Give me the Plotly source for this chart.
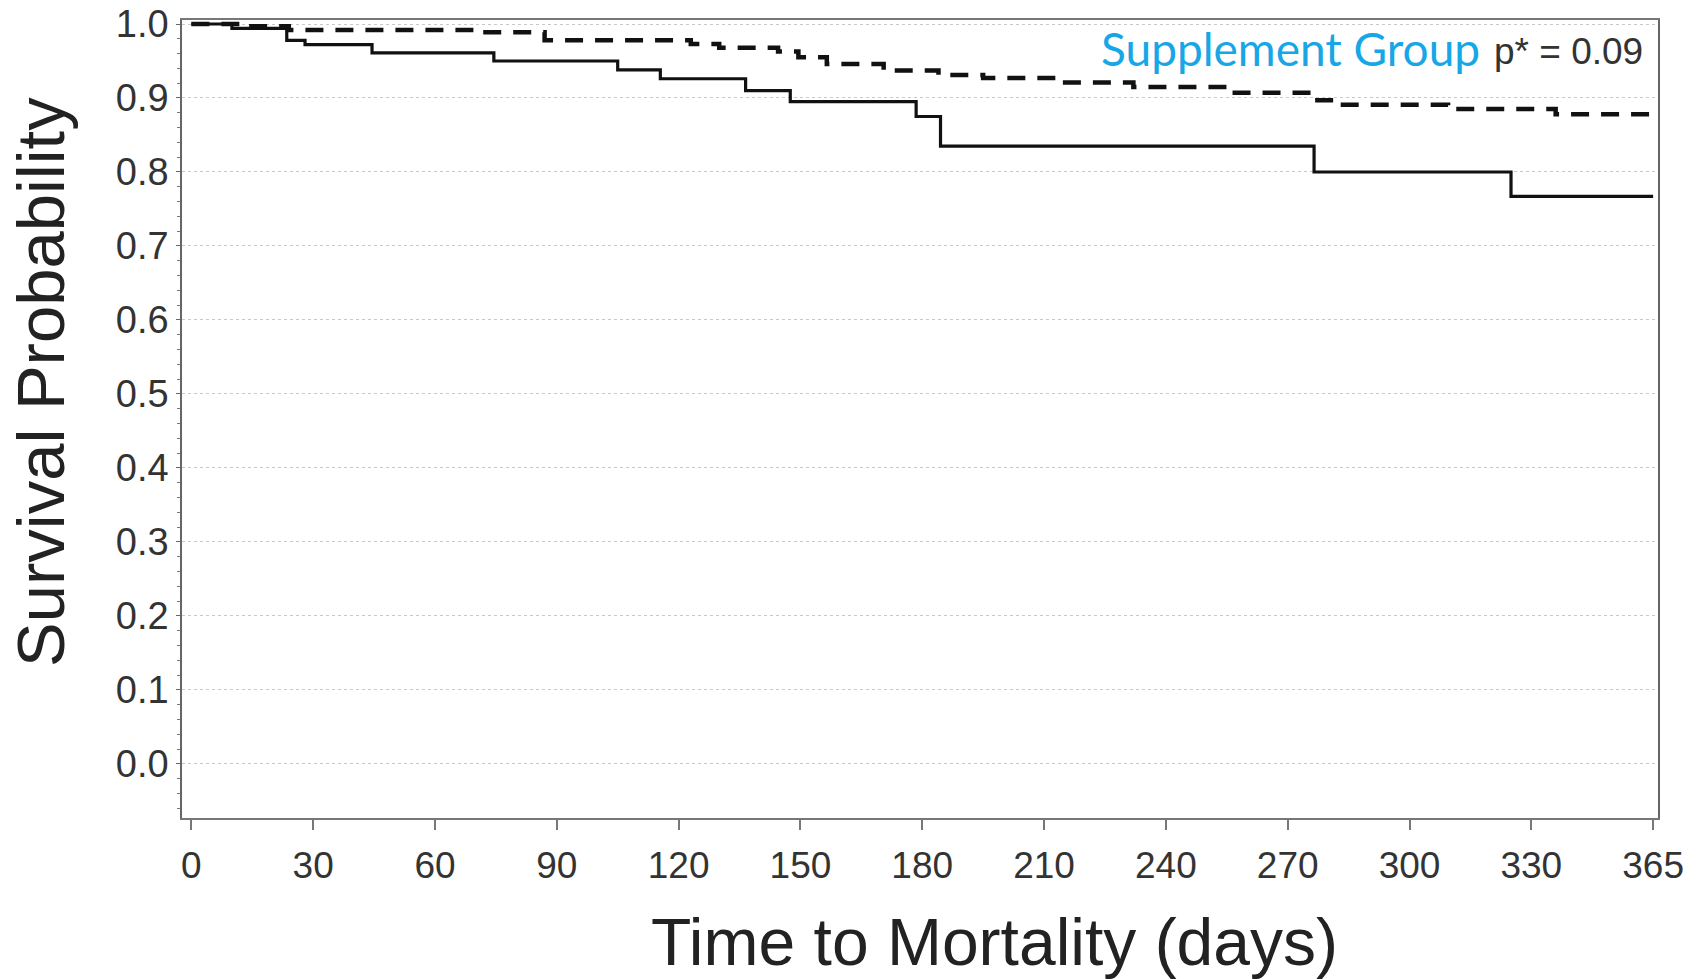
import plotly.graph_objects as go

# ---- Data ----
# x axis positions: ticks are evenly spaced; last tick (position 360) is labelled 365
tick_positions = [0, 30, 60, 90, 120, 150, 180, 210, 240, 270, 300, 330, 360]
tick_labels = ["0", "30", "60", "90", "120", "150", "180", "210", "240", "270", "300", "330", "365"]

# Solid curve (comparison group)
solid_days = [0, 10, 23.5, 28, 44.5, 74.5, 105, 115.5, 136.5, 147.5, 178.5, 184.5, 276.5, 325, 360]
solid_surv = [1.0, 0.994, 0.978, 0.972, 0.961, 0.950, 0.938, 0.926, 0.910, 0.895, 0.875, 0.835, 0.800, 0.767, 0.767]

# Dashed curve (supplement group)
dashed_days = [0, 14, 24, 70, 87, 123, 130, 144.5, 149.5, 156.5, 170.5, 184, 195, 213, 232, 255, 276, 283, 309.5, 336, 360]
dashed_surv = [1.0, 0.997, 0.992, 0.989, 0.978, 0.973, 0.968, 0.963, 0.955, 0.946, 0.937, 0.931, 0.927,
               0.921, 0.915, 0.907, 0.897, 0.891, 0.885, 0.878, 0.878]

y_ticks = [0.0, 0.1, 0.2, 0.3, 0.4, 0.5, 0.6, 0.7, 0.8, 0.9, 1.0]
y_ticktext = ["0.0", "0.1", "0.2", "0.3", "0.4", "0.5", "0.6", "0.7", "0.8", "0.9", "1.0"]

fig = go.Figure()
fig.add_trace(go.Scatter(
    x=solid_days, y=solid_surv, mode="lines", line_shape="hv",
    line=dict(color="#111111", width=3.2), showlegend=False, name="Control"))
fig.add_trace(go.Scatter(
    x=dashed_days, y=dashed_surv, mode="lines", line_shape="hv",
    line=dict(color="#111111", width=4.5, dash="18px,12px"), showlegend=False, name="Supplement Group"))

fig.update_xaxes(
    range=[-2.3, 361.2], tickvals=tick_positions, ticktext=tick_labels, automargin=False,
    showgrid=False, zeroline=False, showline=True, linecolor="#777777", linewidth=1.5,
    mirror=True, ticks="outside", ticklen=10, tickcolor="#777777", tickwidth=1.5,
    tickfont=dict(family="Liberation Sans, Arial, sans-serif", size=37, color="#333333"),
    ticklabelstandoff=4)
fig.update_yaxes(
    range=[-0.073, 1.0054], tickvals=y_ticks, ticktext=y_ticktext, automargin=False,
    showgrid=True, gridcolor="#c8c8c8", griddash="dot", gridwidth=1,
    zeroline=False, showline=True, linecolor="#666666", linewidth=1.5, mirror=True,
    ticks="outside", ticklen=4, tickcolor="#666666", tickwidth=1.2,
    minor=dict(dtick=0.02, ticks="outside", ticklen=3, tickcolor="#777777", showgrid=False),
    tickfont=dict(family="Liberation Sans, Arial, sans-serif", size=38, color="#333333"),
    ticklabelstandoff=0)

annotations = [
    dict(text="Time to Mortality (days)", xref="paper", yref="paper", x=(994 - 182) / 1476, y=-(942 - 818) / 798,
         xanchor="center", yanchor="middle", showarrow=False,
         font=dict(family="Liberation Sans, Arial, sans-serif", size=66, color="#222222")),
    dict(text="Survival Probability", xref="paper", yref="paper", x=-(182 - 40) / 1476, y=(818 - 382) / 798,
         xanchor="center", yanchor="middle", textangle=-90, showarrow=False,
         font=dict(family="Liberation Sans, Arial, sans-serif", size=67, color="#222222")),
    dict(text="Supplement Group", xref="paper", yref="paper", x=(1482 - 182) / 1476, y=(818 - 49) / 798,
         xanchor="right", yanchor="middle", showarrow=False,
         font=dict(family="Lato, Open Sans, sans-serif", size=46, color="#17A6E6")),
    dict(text="p* = 0.09", xref="paper", yref="paper", x=(1492 - 182) / 1476, y=(818 - 51) / 798,
         xanchor="left", yanchor="middle", showarrow=False,
         font=dict(family="Liberation Sans, Arial, sans-serif", size=37, color="#333333")),
]

fig.update_layout(
    width=1706, height=979,
    margin=dict(l=182, r=48, t=20, b=161, autoexpand=False),
    paper_bgcolor="white", plot_bgcolor="white",
    annotations=annotations, showlegend=False)

fig.write_html("out.html", config={"displayModeBar": False},
               post_script="document.body.style.margin='0';document.body.style.padding='0';"
                           "document.body.style.overflow='hidden';")
